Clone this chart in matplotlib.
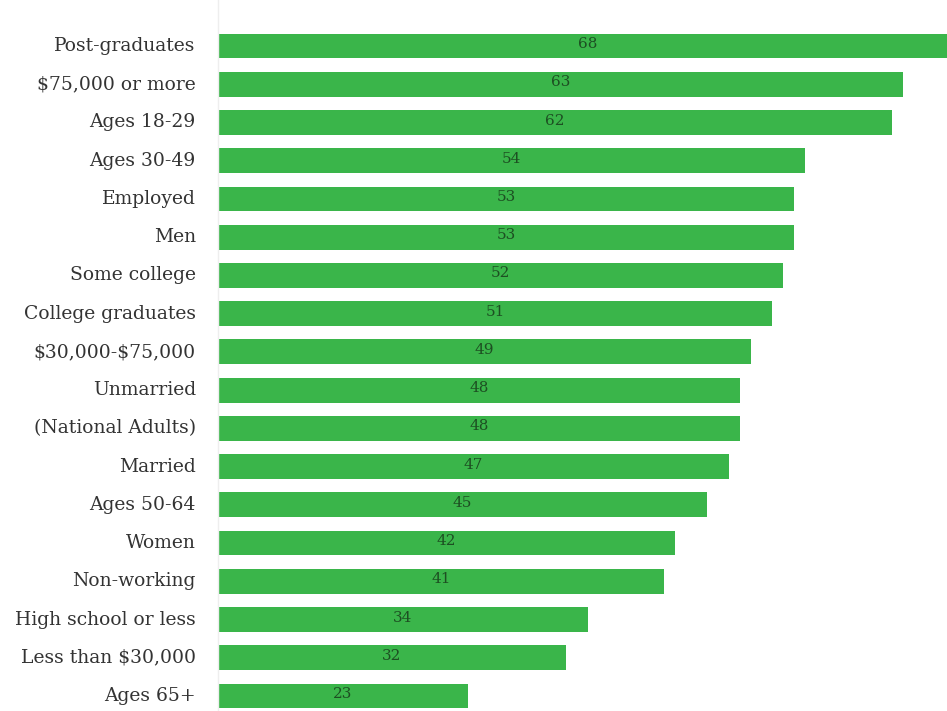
import matplotlib.pyplot as plt

groups = ["Post-graduates", "$75,000 or more", "Ages 18-29", "Ages 30-49", "Employed",
          "Men", "Some college", "College graduates", "$30,000-$75,000", "Unmarried",
          "(National Adults)", "Married", "Ages 50-64", "Women", "Non-working",
          "High school or less", "Less than $30,000", "Ages 65+"]
values = [68, 63, 62, 54, 53, 53, 52, 51, 49, 48, 48, 47, 45, 42, 41, 34, 32, 23]

fig = plt.figure(figsize=(9.47, 7.11), dpi=100)
# axes spans from the bar base (x=218px) to the right edge
ax = fig.add_axes([218 / 947, 0, 729 / 947, 1])

pos = list(range(len(groups)))
ax.barh(pos, values, height=0.65, color="#3ab54a", edgecolor="none")

for p, v in zip(pos, values):
    ax.text(v / 2, p - 0.05, str(v), ha="center", va="center", fontsize=11,
            color="#1d4f22", family="DejaVu Serif")

ax.set_xlim(0, 729 / 10.87)
ax.set_ylim(17 + 15 / 38.24, -46 / 38.24)
ax.set_yticks(pos)
ax.set_yticklabels([g.replace("$", r"\$") for g in groups], family="DejaVu Serif",
                   fontsize=13.5, color="#333333")
ax.tick_params(axis="y", length=0, pad=16)
for lab in ax.get_yticklabels():
    lab.set_verticalalignment("center")
ax.set_xticks([])
for s in ["top", "right", "bottom"]:
    ax.spines[s].set_visible(False)
ax.spines["left"].set_color("#eeeeee")
ax.spines["left"].set_linewidth(1)

fig.savefig("out.png", dpi=100)
